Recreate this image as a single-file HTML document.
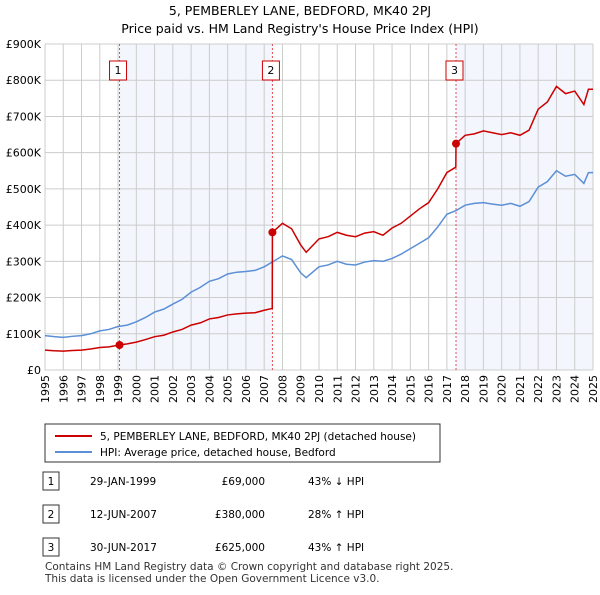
<!DOCTYPE html>
<html><head><meta charset="utf-8"><style>
body{margin:0;width:600px;height:590px;background:#fff;font-family:"Liberation Sans","DejaVu Sans",sans-serif;overflow:hidden}
svg text{font-family:"DejaVu Sans","Liberation Sans",sans-serif}
</style></head><body>
<svg id="c" width="600" height="590">
<text x="300" y="15" text-anchor="middle" font-size="12.5">5, PEMBERLEY LANE, BEDFORD, MK40 2PJ</text>
<text x="300" y="33" text-anchor="middle" font-size="12.5">Price paid vs. HM Land Registry's House Price Index (HPI)</text>
<g id="grid"></g><g id="marks"></g>
<rect x="45" y="424" width="395" height="38" fill="#fff" stroke="#333"/>
<line x1="55" y1="436" x2="92" y2="436" stroke="#cc0000" stroke-width="2"/>
<text x="100" y="440" font-size="10.5">5, PEMBERLEY LANE, BEDFORD, MK40 2PJ (detached house)</text>
<line x1="55" y1="452" x2="92" y2="452" stroke="#5b8fd6" stroke-width="2"/>
<text x="100" y="456" font-size="10.5">HPI: Average price, detached house, Bedford</text>
<g id="table" font-size="10.5"></g>
<text x="45" y="570" font-size="10.5" fill="#333">Contains HM Land Registry data © Crown copyright and database right 2025.</text>
<text x="45" y="582" font-size="10.5" fill="#333">This data is licensed under the Open Government Licence v3.0.</text>
</svg>
<script>
const years=[1995,1996,1997,1998,1999,2000,2001,2002,2003,2004,2005,2006,2007,2008,2009,2010,2011,2012,2013,2014,2015,2016,2017,2018,2019,2020,2021,2022,2023,2024,2025];
const yTicks=[0,100,200,300,400,500,600,700,800,900];
const yTickLabels=["£0","£100K","£200K","£300K","£400K","£500K","£600K","£700K","£800K","£900K"];
const hpiDates=[1995,1995.5,1996,1996.5,1997,1997.5,1998,1998.5,1999,1999.5,2000,2000.5,2001,2001.5,2002,2002.5,2003,2003.5,2004,2004.5,2005,2005.5,2006,2006.5,2007,2007.5,2008,2008.5,2009,2009.3,2010,2010.5,2011,2011.5,2012,2012.5,2013,2013.5,2014,2014.5,2015,2015.5,2016,2016.5,2017,2017.5,2018,2018.5,2019,2019.5,2020,2020.5,2021,2021.5,2022,2022.5,2023,2023.5,2024,2024.5,2024.75,2025];
const hpiValues=[95,92,90,93,95,100,108,112,120,124,133,145,160,168,182,195,215,228,245,252,265,270,272,275,285,300,315,305,268,255,285,290,300,292,290,298,302,300,308,320,335,350,365,395,430,440,455,460,462,458,455,460,452,465,505,520,550,535,540,515,545,545];
const priceDates=[1995,1995.5,1996,1996.5,1997,1997.5,1998,1998.5,1999.08,1999.5,2000,2000.5,2001,2001.5,2002,2002.5,2003,2003.5,2004,2004.5,2005,2005.5,2006,2006.5,2007,2007.44,2007.45,2008,2008.5,2009,2009.3,2010,2010.5,2011,2011.5,2012,2012.5,2013,2013.5,2014,2014.5,2015,2015.5,2016,2016.5,2017,2017.49,2017.5,2018,2018.5,2019,2019.5,2020,2020.5,2021,2021.5,2022,2022.5,2023,2023.5,2024,2024.5,2024.75,2025];
const priceValues=[55,53,52,54,55,58,62,64,69,72,77,84,92,96,105,112,124,130,141,145,152,155,157,158,165,170,380,405,390,345,325,362,368,380,372,368,378,382,372,392,405,425,445,462,500,545,560,625,648,652,660,655,650,655,648,662,720,740,783,763,770,733,775,775];
const sales=[{n:"1",d:1999.08,v:69,date:"29-JAN-1999",p:"£69,000",h:"43% ↓ HPI"},{n:"2",d:2007.45,v:380,date:"12-JUN-2007",p:"£380,000",h:"28% ↑ HPI"},{n:"3",d:2017.5,v:625,date:"30-JUN-2017",p:"£625,000",h:"43% ↑ HPI"}];
const X0=45,X1=593,Y0=370,Y1=44;
const xs=d=>X0+(d-1995)/30*(X1-X0);
const ys=v=>Y0-v/900*(Y0-Y1);
const NS="http://www.w3.org/2000/svg";
function mk(t,a,p){const e=document.createElementNS(NS,t);for(const k in a)e.setAttribute(k,a[k]);p.appendChild(e);return e;}
const g=document.getElementById('grid'),m=document.getElementById('marks'),tb=document.getElementById('table');
let r=mk('rect',{x:xs(1999.08),y:Y1,width:xs(2007.45)-xs(1999.08),height:Y0-Y1,fill:'#eef2fc',opacity:0.7},g);


r=mk('rect',{x:xs(2017.5),y:Y1,width:X1-xs(2017.5),height:Y0-Y1,fill:'#eef2fc',opacity:0.7},g);


years.forEach(y=>{const l=mk('line',{x1:xs(y),x2:xs(y),y1:Y1,y2:Y0,stroke:'#ccc'},g);


const tx=xs(y)+4,ty=Y0+5;
const t=mk('text',{x:tx,y:ty,'font-size':11,'text-anchor':'end',transform:'rotate(-90 '+tx+' '+ty+')'},g);t.textContent=y;

});
yTicks.forEach((v,i)=>{const l=mk('line',{x1:X0,x2:X1,y1:ys(v),y2:ys(v),stroke:'#ccc'},g);


const t=mk('text',{x:41,y:ys(v)+4,'font-size':11,'text-anchor':'end'},g);t.textContent=yTickLabels[i];

});
sales.forEach(s=>{const l=mk('line',{x1:xs(s.d),x2:xs(s.d),y1:Y1,y2:Y0,stroke:'#e05050','stroke-dasharray':'2,2'},m);


const b=mk('rect',{x:xs(s.d)-10,y:61,width:17,height:19,fill:'#fff',stroke:'#cc0000'},m);


const t=mk('text',{x:xs(s.d)-1.5,y:74,'font-size':11,'text-anchor':'middle'},m);t.textContent=s.n;

});
let p=mk('polyline',{points:hpiDates.map((d,i)=>xs(d)+','+ys(hpiValues[i])).join(' '),fill:'none',stroke:'#5b8fd6','stroke-width':1.5},m);


p=mk('polyline',{points:priceDates.map((d,i)=>xs(d)+','+ys(priceValues[i])).join(' '),fill:'none',stroke:'#cc0000','stroke-width':1.5},m);


sales.forEach((s,i)=>{const c=mk('circle',{cx:xs(s.d),cy:ys(s.v),r:4,fill:'#cc0000'},m);


const y=482+i*33;
const b=mk('rect',{x:43,y:y-10,width:16,height:18,fill:'#fff',stroke:'#333'},tb);


[[51,s.n,'middle'],[90,s.date,'start'],[265,s.p,'end'],[308,s.h,'start']].forEach(q=>{const t=mk('text',{x:q[0],y:y+3,'text-anchor':q[2]},tb);t.textContent=q[1];

});});
</script>
</body></html>
